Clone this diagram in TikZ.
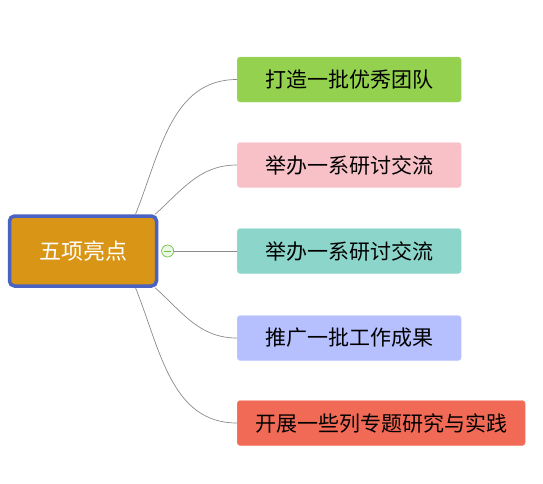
\documentclass[tikz,border=0pt]{standalone}
\usepackage{fontspec}
\setmainfont{Noto Sans CJK SC}
\usetikzlibrary{positioning, calc}
\definecolor{hubfill}{HTML}{D99616}
\definecolor{hubframe}{HTML}{4A62C2}
\definecolor{greenfill}{HTML}{93D14F}
\definecolor{pinkfill}{HTML}{F8C1C8}
\definecolor{tealfill}{HTML}{8CD5CB}
\definecolor{lilacfill}{HTML}{B6C0FE}
\definecolor{redfill}{HTML}{F06A56}
\definecolor{foldframe}{HTML}{6DBE45}
\definecolor{foldfill}{HTML}{EDF7E6}
\definecolor{linkgray}{HTML}{8A8A8A}
\newcommand{\topicfont}{\fontsize{21}{25}\selectfont}
\newcommand{\hubfont}{\fontsize{22}{26}\selectfont}
\tikzset{
  hub/.style={
    draw=hubframe,
    fill=hubfill,
    line width=3.5pt,
    rounded corners=5pt,
    minimum width=147pt,
    minimum height=70pt,
    inner sep=0pt,
    text=white,
    font=\hubfont
  },
  topic/.style={
    rounded corners=3pt,
    minimum width=224pt,
    minimum height=45pt,
    inner sep=0pt,
    anchor=west,
    font=\topicfont
  },
  greenbox/.style={topic, fill=greenfill, draw=greenfill!80!white},
  pinkbox/.style={topic, fill=pinkfill, draw=pinkfill!80!white},
  tealbox/.style={topic, fill=tealfill, draw=tealfill!80!white},
  lilacbox/.style={topic, fill=lilacfill, draw=lilacfill!80!white},
  redbox/.style={topic, fill=redfill, draw=redfill!80!white, minimum width=288pt},
  link/.style={draw=linkgray, line width=0.7pt},
  fold/.style={circle, draw=foldframe, fill=foldfill, line width=0.7pt, minimum size=12pt, inner sep=0pt}
}

\begin{document}
\begin{tikzpicture}[x=1pt, y=-1pt]
  \useasboundingbox (0,0) rectangle (543,483);

  \node[hub] (hub) at (83,251) {五项亮点};
  \node[fold, right=3pt of hub] (fold) {};
  \draw[foldframe, line width=0.8pt] ($(fold.center)+(-3.5,0)$) -- ($(fold.center)+(3.5,0)$);

  \node[greenbox] (team) at (237,79.5) {打造一批优秀团队};
  \node[pinkbox] (talks) at (237,165) {举办一系研讨交流};
  \node[tealbox] (forum) at (237,251) {举办一系研讨交流};
  \node[lilacbox] (results) at (237,338) {推广一批工作成果};
  \node[redbox] (study) at (237,423) {开展一些列专题研究与实践};

  \draw[link] (hub.35) to[out=68, in=180] (team.west);
  \draw[link] (hub.27) to[out=42, in=180] (talks.west);
  \draw[link, line width=0.9pt] (fold.east) -- (forum.west);
  \draw[link] (hub.-27) to[out=-42, in=180] (results.west);
  \draw[link] (hub.-35) to[out=-68, in=180] (study.west);

\end{tikzpicture}
\end{document}
